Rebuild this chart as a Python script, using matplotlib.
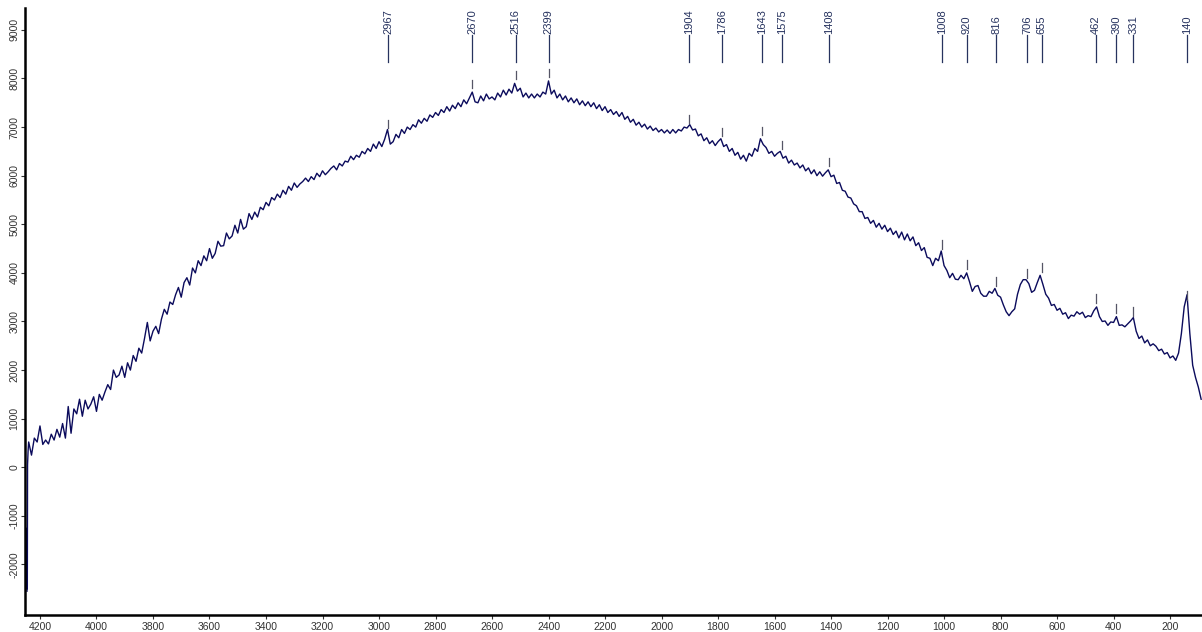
import numpy as np
import matplotlib.pyplot as plt

plt.rcParams['font.family'] = ['Liberation Sans', 'DejaVu Sans']
plt.rcParams['axes.unicode_minus'] = False

# left edge artefact of the spectrum
edge_x = [4246, 4245.7, 4245.4, 4245.1, 4244.8, 4244.5, 4244, 4242]
edge_y = [-2550, -1250, -2500, -1300, -2450, -1200, 50, 350]

# intensities, 4240 -> 90 cm-1 every 10 cm-1
intensity = [
    520, 250, 600, 520, 850, 470, 560, 480, 680,
    560, 780, 620, 900, 600, 1250, 700, 1200, 1100, 1400,
    1050, 1380, 1200, 1300, 1450, 1150, 1500, 1380, 1550, 1700,
    1600, 2000, 1850, 1900, 2080, 1850, 2150, 2000, 2300, 2180,
    2450, 2350, 2650, 2980, 2600, 2800, 2900, 2750, 3050, 3250,
    3150, 3400, 3350, 3550, 3700, 3500, 3800, 3900, 3750, 4100,
    4000, 4250, 4150, 4350, 4250, 4500, 4300, 4400, 4650, 4550,
    4560, 4820, 4700, 4760, 4980, 4820, 5100, 4900, 4950, 5220,
    5100, 5250, 5150, 5350, 5300, 5450, 5380, 5550, 5500, 5620,
    5550, 5700, 5620, 5780, 5700, 5850, 5760, 5830, 5880, 5950,
    5880, 5980, 5920, 6050, 5980, 6100, 6020, 6080, 6150, 6200,
    6120, 6250, 6200, 6300, 6280, 6400, 6330, 6420, 6380, 6500,
    6450, 6560, 6500, 6650, 6560, 6700, 6600, 6750, 6950, 6650,
    6700, 6850, 6780, 6950, 6870, 7000, 6950, 7050, 7000, 7150,
    7080, 7180, 7120, 7250, 7200, 7300, 7240, 7360, 7300, 7420,
    7330, 7450, 7380, 7500, 7420, 7560, 7480, 7600, 7720, 7520,
    7500, 7640, 7540, 7680, 7580, 7620, 7560, 7700, 7620, 7760,
    7660, 7780, 7700, 7900, 7740, 7800, 7620, 7700, 7600, 7680,
    7600, 7680, 7620, 7720, 7680, 7950, 7680, 7760, 7600, 7680,
    7560, 7640, 7520, 7600, 7500, 7580, 7460, 7540, 7440, 7520,
    7420, 7500, 7380, 7460, 7340, 7420, 7300, 7360, 7260, 7320,
    7220, 7300, 7160, 7220, 7100, 7160, 7040, 7100, 7000, 7060,
    6960, 7020, 6930, 6980, 6900, 6950, 6880, 6940, 6870, 6950,
    6880, 6950, 6920, 7000, 6980, 7050, 6940, 6960, 6820, 6860,
    6720, 6780, 6660, 6720, 6620, 6700, 6760, 6600, 6640, 6500,
    6560, 6420, 6480, 6340, 6420, 6300, 6460, 6400, 6560, 6500,
    6760, 6640, 6580, 6460, 6500, 6400, 6460, 6500, 6360, 6400,
    6260, 6320, 6220, 6260, 6160, 6220, 6100, 6160, 6040, 6120,
    6000, 6080, 5990, 6060, 6120, 5980, 6010, 5840, 5860, 5700,
    5680, 5560, 5540, 5420, 5380, 5260, 5260, 5120, 5140, 5020,
    5080, 4940, 5020, 4900, 4980, 4850, 4920, 4790, 4860, 4720,
    4840, 4680, 4800, 4660, 4740, 4560, 4620, 4460, 4520, 4320,
    4300, 4150, 4300, 4250, 4450, 4150, 4050, 3900, 3990, 3870,
    3860, 3950, 3880, 4000, 3820, 3620, 3720, 3740, 3580, 3520,
    3520, 3620, 3580, 3680, 3540, 3500, 3340, 3200, 3120, 3200,
    3260, 3560, 3760, 3860, 3860, 3780, 3600, 3640, 3800, 3950,
    3760, 3560, 3480, 3330, 3350, 3230, 3270, 3150, 3180, 3060,
    3130, 3110, 3200, 3150, 3190, 3080, 3120, 3100, 3220, 3300,
    3100, 3000, 3010, 2920, 2990, 2980, 3100, 2920, 2930, 2890,
    2950, 3010, 3080, 2800, 2650, 2700, 2560, 2620, 2500, 2540,
    2490, 2400, 2430, 2330, 2360, 2250, 2290, 2200, 2350, 2750,
    3300, 3550, 2750, 2100, 1850, 1650, 1400,
]
wavenumber = np.arange(4240, 89, -10)

# labelled peaks and the height where their small marker sits
peaks = [2967, 2670, 2516, 2399, 1904, 1786, 1643, 1575, 1408,
         1008, 920, 816, 706, 655, 462, 390, 331, 140]
peak_mark = [6980, 7800, 7990, 8030, 7080, 6820, 6840, 6550, 6200,
             4500, 4090, 3740, 3900, 4025, 3390, 3180, 3120, 3450]

x = np.concatenate([edge_x, wavenumber])
y = np.concatenate([edge_y, intensity])

fig = plt.figure(figsize=(12.02, 6.32), dpi=100)
ax = fig.add_axes([0.0208, 0.0269, 0.9792, 0.9604])

ax.plot(x, y, color='#0b0b5c', lw=1.0)

label_col = '#27335f'
for p, m in zip(peaks, peak_mark):
    ax.plot([p, p], [m, m + 170], color='#555566', lw=0.9)
    ax.plot([p, p], [0.911, 0.955], color=label_col, lw=0.9,
            transform=ax.get_xaxis_transform())
    ax.text(p, 0.958, str(p), rotation=90, ha='center', va='bottom',
            fontsize=8, color=label_col, transform=ax.get_xaxis_transform())

ax.set_xlim(4253, 87)
ax.set_ylim(-3040, 9450)
ax.set_xticks(np.arange(200, 4201, 200))
ax.set_yticks(np.arange(-2000, 9001, 1000))
ax.tick_params(axis='y', labelrotation=90, labelsize=7.5, length=3,
               colors='#333333', pad=1)
ax.tick_params(axis='x', labelsize=7.5, length=3, colors='#333333', pad=2)
for t in ax.get_yticklabels():
    t.set_va('center')

for s in ['top', 'right']:
    ax.spines[s].set_visible(False)
for s in ['left', 'bottom']:
    ax.spines[s].set_linewidth(1.8)
    ax.spines[s].set_color('black')

fig.savefig('out.png', dpi=100)
